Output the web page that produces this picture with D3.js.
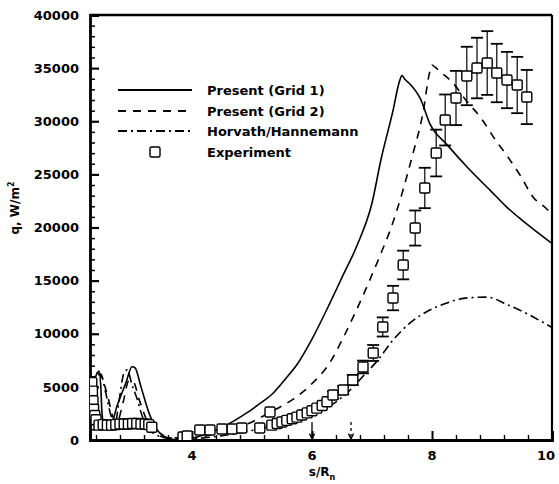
<!DOCTYPE html>
<html>
<head>
<meta charset="utf-8">
<script src="https://cdn.jsdelivr.net/npm/d3@7"></script>
<style>
  html, body { margin: 0; padding: 0; background: #fff; }
  svg { display: block; }
  text { font-family: "DejaVu Sans", "Liberation Sans", Arial, sans-serif; font-weight: bold; fill: #000; }
</style>
</head>
<body>
<svg id="chart" width="559" height="484"></svg>
<script>
// Stagnation-line heat flux along the body, s/R_n vs q
const xTicks = [4, 6, 8, 10];
const yTicks = [0, 5000, 10000, 15000, 20000, 25000, 30000, 35000, 40000];

const seriesNames = ["Present (Grid 1)", "Present (Grid 2)", "Horvath/Hannemann", "Experiment"];

// Present (Grid 1): [s/Rn, q]
const grid1 = [
  [2.30, 4800], [2.38, 5800], [2.45, 6500], [2.48, 5000], [2.50, 2500], [2.53, 1600],
  [2.65, 1500], [2.75, 3200], [2.90, 5400], [3.00, 6900], [3.05, 6800], [3.15, 5000],
  [3.28, 2600], [3.40, 1100], [3.55, 300], [3.70, 50], [3.90, 100], [4.10, 300],
  [4.30, 700], [4.50, 1200], [4.70, 1800], [4.90, 2500], [5.10, 3300], [5.35, 4400],
  [5.55, 5700], [5.75, 7100], [6.00, 9500], [6.30, 12900], [6.50, 15300], [6.75, 18300],
  [7.00, 22300], [7.15, 26400], [7.35, 31000], [7.46, 33800], [7.50, 34300], [7.54, 34000],
  [7.65, 33400], [7.80, 32200], [7.97, 29700], [8.25, 27800], [8.60, 25600], [8.97, 23500],
  [9.25, 21900], [9.52, 20600], [10.0, 18500]
];

// Present (Grid 2)
const grid2 = [
  [2.30, 5000], [2.42, 6300], [2.50, 5800], [2.60, 4000], [2.68, 2200], [2.75, 1700],
  [2.85, 3500], [2.95, 5600], [3.02, 5500], [3.12, 3800], [3.25, 1800], [3.40, 600],
  [3.60, 200], [4.00, 200], [4.50, 800], [5.00, 1700], [5.30, 2600], [5.70, 3900],
  [6.00, 5300], [6.30, 7300], [6.50, 9400], [6.85, 13600], [7.10, 16900], [7.35, 20500],
  [7.50, 23200], [7.67, 26700], [7.85, 30800], [7.96, 34600], [8.00, 35300], [8.05, 35100],
  [8.15, 34600], [8.35, 33600], [8.55, 32100], [8.83, 30200], [9.05, 28300], [9.27, 26600],
  [9.47, 24900], [9.68, 22900], [9.92, 21700], [10.0, 21200]
];

// Horvath/Hannemann
const horvath = [
  [2.30, 4500], [2.40, 5800], [2.48, 6200], [2.56, 4500], [2.65, 2300], [2.72, 1600],
  [2.78, 3500], [2.86, 6200], [2.92, 6600], [3.00, 5200], [3.10, 3600], [3.15, 2600],
  [3.25, 1200], [3.40, 500], [3.60, 200], [4.00, 150], [4.50, 400], [5.00, 900],
  [5.50, 1600], [6.00, 2400], [6.30, 3200], [6.58, 4400], [6.85, 6000], [7.08, 7400],
  [7.35, 9400], [7.63, 11000], [7.92, 12100], [8.20, 12800], [8.55, 13350], [8.92, 13450],
  [9.25, 12750], [9.63, 11750], [9.92, 10850], [10.0, 10600]
];

// Experiment: positions, heat flux and error bar half-widths
const expS = [
  2.33, 2.34, 2.35, 2.36, 2.38, 2.40,
  2.45, 2.52, 2.59, 2.66, 2.73, 2.80, 2.87, 2.94, 3.01, 3.08, 3.15, 3.22, 3.28, 3.33,
  3.85, 3.92, 4.13, 4.30, 4.50, 4.67, 4.83, 5.13, 5.30,
  5.33, 5.42, 5.50, 5.58, 5.67, 5.75, 5.83, 5.92, 6.00, 6.08, 6.17, 6.25,
  6.35, 6.52, 6.68, 6.85, 7.02, 7.18, 7.35, 7.52, 7.72, 7.88, 8.07, 8.22, 8.40,
  8.58, 8.75, 8.92, 9.08, 9.25, 9.42, 9.58
];
const expQ = [
  5400, 4600, 3700, 2900, 2300, 1900,
  1400, 1450, 1400, 1400, 1450, 1500, 1500, 1500, 1550, 1550, 1500, 1500, 1450, 1200,
  280, 380, 940, 940, 1030, 1030, 1130, 1130, 2640,
  1400, 1550, 1700, 1850, 2000, 2150, 2350, 2550, 2750, 3000, 3250, 3600,
  4240, 4700, 5650, 6870, 8190, 10640, 13360, 16470, 19950, 23720, 27010, 30120, 32190,
  34260, 35010, 35480, 34540, 33880, 33410, 32280
];
const expErr = [
  0, 0, 0, 0, 0, 0,
  0, 0, 0, 0, 0, 0, 0, 0, 0, 0, 0, 0, 0, 0,
  0, 0, 0, 0, 0, 0, 0, 0, 0,
  0, 0, 0, 0, 0, 0, 0, 0, 0, 0, 0, 0,
  350, 400, 480, 600, 750, 900, 1150, 1350, 1650, 1900, 2200, 2400, 2550,
  2750, 2850, 3000, 2750, 2650, 2650, 2550
];

// Annotation arrows on the s axis
const arrowS = [6.0, 6.65];
const arrowDash = [null, "3,3"];

const svg = d3.select("#chart");
const x = d3.scaleLinear().domain([2.3, 10]).range([90, 552]);
const y = d3.scaleLinear().domain([0, 40000]).range([440, 15]);

svg.append("defs").append("clipPath").attr("id", "plot")
  .append("rect").attr("x", x(2.3)).attr("y", y(40000))
  .attr("width", x(10) - x(2.3)).attr("height", y(0) - y(40000));

// Frame (top and right)
svg.append("line").attr("x1", x(2.3)).attr("x2", x(10)).attr("y1", y(40000)).attr("y2", y(40000))
  .attr("stroke", "#000").attr("stroke-width", 2.5);
svg.append("line").attr("x1", x(10)).attr("x2", x(10)).attr("y1", y(40000)).attr("y2", y(0))
  .attr("stroke", "#000").attr("stroke-width", 2.2);

// Y axis with inward ticks
const yAxis = d3.axisRight(y).tickValues(yTicks).tickSize(9).tickFormat("");
const gy = svg.append("g").attr("transform", `translate(${x(2.3)},0)`).call(yAxis);
gy.select(".domain").attr("stroke-width", 2.8);
gy.selectAll(".tick line").attr("stroke-width", 2.2);
const yMinor = d3.axisRight(y).tickValues(d3.range(0, 40001, 1000).filter(v => v % 5000)).tickSize(5).tickFormat("");
const gym = svg.append("g").attr("transform", `translate(${x(2.3)},0)`).call(yMinor);
gym.select(".domain").remove();
gym.selectAll(".tick line").attr("stroke-width", 1.5);
svg.append("g").selectAll("text").data(yTicks).join("text")
  .attr("x", 79).attr("y", d => y(d)).attr("dy", "0.36em")
  .attr("text-anchor", "end").style("font-size", "13px").text(d => d);

// X axis with inward ticks
const xAxis = d3.axisTop(x).tickValues(xTicks).tickSize(9).tickFormat("");
const gx = svg.append("g").attr("transform", `translate(0,${y(0)})`).call(xAxis);
gx.select(".domain").attr("stroke-width", 2.8);
gx.selectAll(".tick line").attr("stroke-width", 2);
const xMinorVals = d3.range(2.4, 9.9, 0.4).map(v => +v.toFixed(1)).filter(v => xTicks.indexOf(v) < 0);
const gxm = svg.append("g").attr("transform", `translate(0,${y(0)})`)
  .call(d3.axisTop(x).tickValues(xMinorVals).tickSize(5).tickFormat(""));
gxm.select(".domain").remove();
gxm.selectAll(".tick line").attr("stroke-width", 1.4);
svg.append("g").selectAll("text").data(xTicks).join("text")
  .attr("x", d => Math.min(x(d), 546)).attr("y", 460)
  .attr("text-anchor", "middle").style("font-size", "13px").text(d => d);

// Axis titles
const xt = svg.append("text").attr("x", 322).attr("y", 476).attr("text-anchor", "middle").style("font-size", "12px");
xt.append("tspan").text("s/R");
xt.append("tspan").attr("dy", 4).style("font-size", "8px").text("n");
const yt = svg.append("text").attr("transform", "translate(19,208) rotate(-90)")
  .attr("text-anchor", "middle").style("font-size", "12px");
yt.append("tspan").text("q, W/m");
yt.append("tspan").attr("dy", -5).style("font-size", "8px").text("2");

// Curves
const line = d3.line().x(d => x(d[0])).y(d => y(d[1])).curve(d3.curveMonotoneX);
const plot = svg.append("g").attr("clip-path", "url(#plot)");
const styles = [
  { data: grid1, dash: null },
  { data: grid2, dash: "8,7" },
  { data: horvath, dash: "9,4,2,4" }
];
styles.forEach(s => {
  plot.append("path").datum(s.data).attr("d", line)
    .attr("fill", "none").attr("stroke", "#000").attr("stroke-width", 1.6)
    .attr("stroke-dasharray", s.dash);
});

// Experiment: error bars then squares
const expData = expS.map((s, i) => ({ s, q: expQ[i], e: expErr[i] }));
const eb = plot.append("g").attr("stroke", "#000").attr("stroke-width", 1.2);
expData.filter(d => d.e > 0).forEach(d => {
  eb.append("line").attr("x1", x(d.s)).attr("x2", x(d.s)).attr("y1", y(d.q - d.e)).attr("y2", y(d.q + d.e));
  [d.q - d.e, d.q + d.e].forEach(v => {
    eb.append("line").attr("x1", x(d.s) - 6).attr("x2", x(d.s) + 6).attr("y1", y(v)).attr("y2", y(v)).attr("stroke-width", 1.8);
  });
});
plot.append("g").selectAll("rect").data(expData).join("rect")
  .attr("x", d => x(d.s) - 5).attr("y", d => y(d.q) - 5)
  .attr("width", 10).attr("height", 10).attr("rx", 1.5)
  .attr("fill", "#fff").attr("stroke", "#000").attr("stroke-width", 1.4);

// Arrows marking stations on the s axis
arrowS.forEach((s, i) => {
  const g = svg.append("g").attr("stroke", "#000").attr("fill", "none").attr("stroke-width", 1.3);
  g.append("line").attr("x1", x(s)).attr("x2", x(s)).attr("y1", y(1700)).attr("y2", y(150))
    .attr("stroke-dasharray", arrowDash[i]);
  g.append("path").attr("d", `M${x(s) - 2.5},${y(600)} L${x(s)},${y(100)} L${x(s) + 2.5},${y(600)}`);
});

// Legend
const legend = svg.append("g");
const rowsY = [90, 111, 131, 152];
styles.forEach((s, i) => {
  legend.append("line").attr("x1", 118).attr("x2", 192).attr("y1", rowsY[i]).attr("y2", rowsY[i])
    .attr("stroke", "#000").attr("stroke-width", 1.8).attr("stroke-dasharray", s.dash);
});
legend.append("rect").attr("x", 150).attr("y", rowsY[3] - 5).attr("width", 10).attr("height", 10)
  .attr("rx", 1.5).attr("fill", "#fff").attr("stroke", "#000").attr("stroke-width", 1.4);
legend.selectAll("text").data(seriesNames).join("text")
  .attr("x", 207).attr("y", (d, i) => rowsY[i]).attr("dy", "0.36em")
  .style("font-size", "13px").text(d => d);
</script>
</body>
</html>
